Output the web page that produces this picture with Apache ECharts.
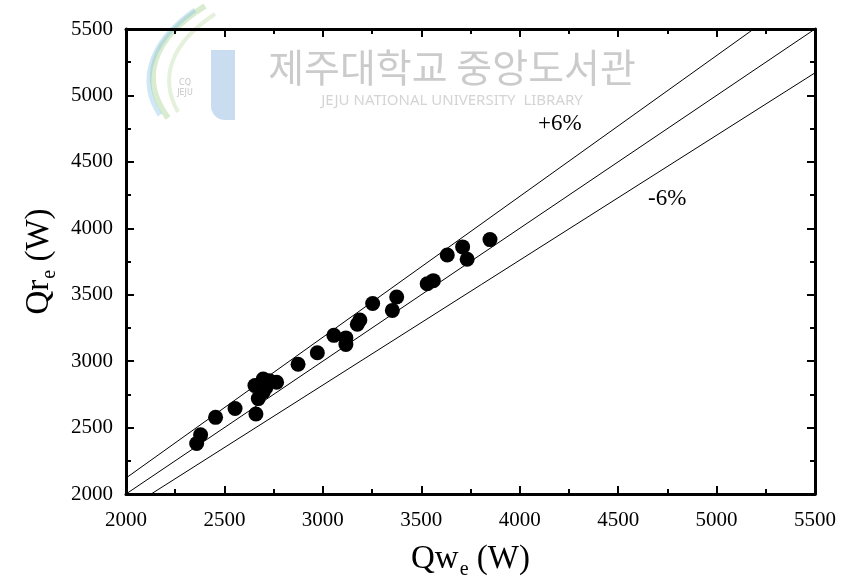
<!DOCTYPE html>
<html>
<head>
<meta charset="utf-8">
<title>Qr_e vs Qw_e</title>
<script src="https://cdn.jsdelivr.net/npm/echarts@6/dist/echarts.min.js"></script>
<style>
  html, body { margin: 0; padding: 0; background: #fff; }
  #chart { width: 848px; height: 585px; }
</style>
</head>
<body>
<div id="chart"></div>
<script>
// Measured heat rates: water side (x) vs refrigerant side (y), in W
const qwE = [3849, 3710, 3733, 3632, 3561, 3530, 3253, 3375, 3353, 3188,
             3175, 3056, 3117, 3117, 2972, 2874, 2655, 2697, 2728, 2765,
             2697, 2672, 2660, 2554, 2455, 2379, 2359, 2690, 2710];
const qrE = [3915, 3860, 3767, 3799, 3606, 3582, 3434, 3483, 3382, 3310,
             3278, 3194, 3175, 3125, 3063, 2977, 2816, 2866, 2853, 2841,
             2768, 2718, 2602, 2644, 2577, 2446, 2380, 2830, 2800];

// Reference lines: perfect agreement and ±6 % deviation
const bandRatios = [1.06, 1.0, 0.94];
const lineSpan = [2000, 5500];
const bandLabels = ['+6%', '-6%'];

const axisMin = 2000, axisMax = 5500, axisStep = 500;

const serif = 'Liberation Serif';

const chart = echarts.init(document.getElementById('chart'), null, { renderer: 'canvas' });

function mainAxis(extra) {
  return Object.assign({
    type: 'value',
    min: axisMin, max: axisMax, interval: axisStep,
    axisLine: { show: true, onZero: false, lineStyle: { color: '#000', width: 3 } },
    axisTick: { show: true, inside: true, length: 8, lineStyle: { color: '#000', width: 2 } },
    minorTick: { show: true, splitNumber: 2, length: 5, lineStyle: { color: '#000', width: 2 } },
    splitLine: { show: false },
    axisLabel: { color: '#000', fontFamily: serif, fontSize: 21, formatter: v => String(v) }
  }, extra);
}

function mirrorAxis(pos) {
  return mainAxis({
    position: pos,
    axisLabel: { show: false },
    name: ''
  });
}

const refSeries = bandRatios.map(r => ({
  type: 'line',
  xAxisIndex: 0, yAxisIndex: 0,
  data: lineSpan.map(v => [v, v * r]),
  symbol: 'none',
  clip: true,
  silent: true,
  lineStyle: { color: '#000', width: 1 },
  z: 2
}));

const titleRich = {
  a: { fontFamily: serif, fontSize: 33, color: '#000' },
  s: { fontFamily: serif, fontSize: 20, color: '#000', padding: [22, 0, 0, 1] }
};

const noteRich = { a: { fontFamily: serif, fontSize: 23, color: '#000' } };

const option = {
  animation: false,
  backgroundColor: '#fff',
  grid: { left: 126, right: 33, top: 29, bottom: 83, containLabel: false },
  xAxis: [
    mainAxis({
      position: 'bottom',
      axisLabel: { color: '#000', fontFamily: serif, fontSize: 21, margin: 16, formatter: v => String(v) },
      name: '{a|Qw}{s|e}{a| (W)}',
      nameLocation: 'middle',
      nameGap: 44,
      nameTextStyle: { rich: titleRich }
    }),
    mirrorAxis('top')
  ],
  yAxis: [
    mainAxis({
      position: 'left',
      axisLabel: { color: '#000', fontFamily: serif, fontSize: 21, margin: 13, formatter: v => String(v) },
      name: '{a|Qr}{s|e}{a| (W)}',
      nameLocation: 'middle',
      nameRotate: 90,
      nameGap: 60,
      nameTextStyle: { rich: titleRich }
    }),
    mirrorAxis('right')
  ],
  series: refSeries.concat([
    {
      type: 'scatter',
      xAxisIndex: 0, yAxisIndex: 0,
      data: qwE.map((x, i) => [x, qrE[i]]),
      symbol: 'circle',
      symbolSize: 15,
      itemStyle: { color: '#000', opacity: 1 },
      z: 3
    }
  ]),
  graphic: [
    { type: 'text', left: 538, top: 112, z: 5,
      style: { text: '{a|' + bandLabels[0] + '}', rich: noteRich } },
    { type: 'text', left: 648, top: 187, z: 5,
      style: { text: '{a|' + bandLabels[1] + '}', rich: noteRich } },
    // Library stamp across the top of the figure
    { type: 'group', z: 100, silent: true, children: [
      { type: 'bezierCurve', shape: { x1: 205, y1: 6, cpx1: 150, cpy1: 40, cpx2: 140, cpy2: 80, x2: 168, y2: 118 },
        style: { stroke: 'rgba(150,200,120,0.35)', lineWidth: 6, fill: null } },
      { type: 'bezierCurve', shape: { x1: 195, y1: 10, cpx1: 145, cpy1: 45, cpx2: 140, cpy2: 85, x2: 160, y2: 115 },
        style: { stroke: 'rgba(120,190,230,0.35)', lineWidth: 5, fill: null } },
      { type: 'bezierCurve', shape: { x1: 215, y1: 14, cpx1: 168, cpy1: 45, cpx2: 160, cpy2: 80, x2: 178, y2: 112 },
        style: { stroke: 'rgba(170,210,140,0.3)', lineWidth: 4, fill: null } },
      { type: 'rect', shape: { x: 211, y: 50, width: 24, height: 70, r: [0, 0, 0, 14] },
        style: { fill: 'rgba(150,185,225,0.5)' } },
      { type: 'text', x: 185, y: 78,
        style: { text: 'CQ\nJEJU', fontFamily: 'DejaVu Sans', fontSize: 8, lineHeight: 10,
                 fill: 'rgba(150,150,150,0.55)', align: 'center' } },
      { type: 'text', x: 452, y: 67,
        style: { text: '제주대학교 중앙도서관', fontFamily: 'Noto Sans CJK KR', fontSize: 39,
                 fill: 'rgba(160,160,160,0.55)', align: 'center', verticalAlign: 'middle' } },
      { type: 'text', x: 452, y: 101,
        style: { text: 'JEJU NATIONAL UNIVERSITY  LIBRARY', fontFamily: 'Noto Sans', fontSize: 15,
                 fill: 'rgba(170,170,170,0.5)', align: 'center', verticalAlign: 'middle' } }
    ] }
  ]
};

chart.setOption(option);
</script>
</body>
</html>
